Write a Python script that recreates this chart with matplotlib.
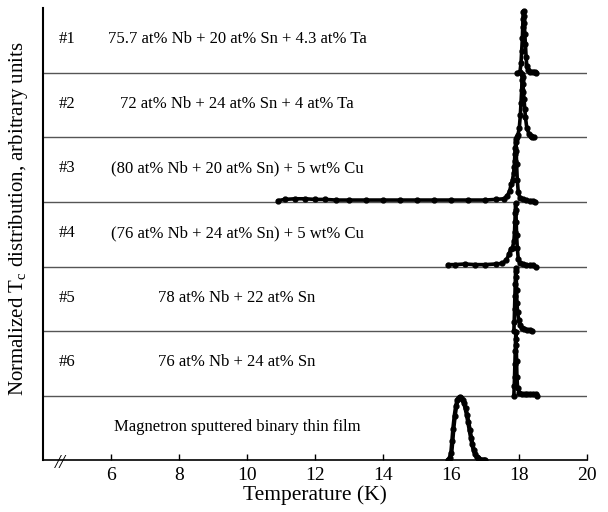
import matplotlib
matplotlib.use("Agg")
import matplotlib.pyplot as plt

plt.rcParams['font.family'] = ['Liberation Serif', 'DejaVu Serif']
plt.rcParams['mathtext.fontset'] = 'custom'
plt.rcParams['mathtext.rm'] = 'Liberation Serif'

# sample labels, top to bottom
sample_ids = ["#1", "#2", "#3", "#4", "#5", "#6", ""]
compositions = [
    "75.7 at% Nb + 20 at% Sn + 4.3 at% Ta",
    "72 at% Nb + 24 at% Sn + 4 at% Ta",
    "(80 at% Nb + 20 at% Sn) + 5 wt% Cu",
    "(76 at% Nb + 24 at% Sn) + 5 wt% Cu",
    "78 at% Nb + 22 at% Sn",
    "76 at% Nb + 24 at% Sn",
    "Magnetron sputtered binary thin film",
]

# normalized Tc distributions (T in K, value 0..1)
t1 = [17.94, 18.02, 18.05, 18.07, 18.09, 18.10, 18.11, 18.12, 18.13, 18.14, 18.15, 18.16,
      18.18, 18.20, 18.22, 18.26, 18.32, 18.40, 18.46, 18.50]
v1 = [0.0, 0.02, 0.15, 0.35, 0.55, 0.72, 0.85, 0.96, 0.98, 0.9, 0.78, 0.62,
      0.45, 0.25, 0.1, 0.04, 0.02, 0.02, 0.01, 0.0]

t2 = [17.92, 17.96, 18.0, 18.03, 18.05, 18.07, 18.08, 18.09, 18.10, 18.11, 18.12, 18.14,
      18.16, 18.18, 18.22, 18.28, 18.34, 18.38, 18.42]
v2 = [0.0, 0.04, 0.15, 0.35, 0.55, 0.75, 0.9, 1.0, 0.95, 0.85, 0.72, 0.6,
      0.45, 0.32, 0.15, 0.06, 0.02, 0.01, 0.0]

t3 = [10.9, 11.1, 11.4, 11.7, 12.0, 12.3, 12.6, 13.0, 13.5, 14.0, 14.5, 15.0, 15.5, 16.0,
      16.5, 17.0, 17.3, 17.55, 17.65, 17.72, 17.76, 17.80, 17.83, 17.85, 17.86, 17.87,
      17.88, 17.89, 17.90, 17.91, 17.92, 17.94, 17.97, 18.02, 18.1, 18.2, 18.3, 18.4, 18.47]
v3 = [0.02, 0.04, 0.05, 0.05, 0.04, 0.04, 0.03, 0.03, 0.03, 0.03, 0.03, 0.03, 0.03, 0.03,
      0.03, 0.03, 0.04, 0.05, 0.1, 0.18, 0.28, 0.35, 0.45, 0.55, 0.65, 0.75,
      0.85, 0.95, 1.0, 0.8, 0.6, 0.35, 0.15, 0.06, 0.04, 0.03, 0.02, 0.02, 0.0]

t4 = [15.9, 16.1, 16.4, 16.7, 17.0, 17.3, 17.5, 17.62, 17.70, 17.75, 17.80, 17.84, 17.86,
      17.87, 17.88, 17.89, 17.90, 17.91, 17.92, 17.94, 17.97, 18.02, 18.1, 18.2, 18.3,
      18.4, 18.48]
v4 = [0.03, 0.03, 0.04, 0.03, 0.03, 0.04, 0.05, 0.1, 0.2, 0.28, 0.3, 0.4, 0.55,
      0.7, 0.85, 1.0, 0.9, 0.7, 0.5, 0.3, 0.12, 0.05, 0.04, 0.03, 0.02,
      0.02, 0.0]

t5 = [17.84, 17.85, 17.86, 17.87, 17.88, 17.89, 17.90, 17.91, 17.92, 17.93, 17.95, 17.98,
      18.02, 18.08, 18.15, 18.22, 18.30, 18.38]
v5 = [0.0, 0.15, 0.35, 0.55, 0.75, 0.95, 1.0, 0.85, 0.65, 0.45, 0.3, 0.18,
      0.1, 0.05, 0.03, 0.02, 0.02, 0.0]

t6 = [17.84, 17.85, 17.86, 17.87, 17.88, 17.89, 17.90, 17.91, 17.92, 17.93, 17.95, 18.0,
      18.08, 18.16, 18.24, 18.32, 18.40, 18.48, 18.53]
v6 = [0.0, 0.15, 0.3, 0.5, 0.7, 0.9, 1.0, 0.8, 0.55, 0.3, 0.12, 0.04,
      0.03, 0.03, 0.02, 0.02, 0.02, 0.02, 0.0]

t7 = [15.9, 15.95, 16.0, 16.03, 16.06, 16.1, 16.14, 16.18, 16.22, 16.26, 16.3, 16.34, 16.38,
      16.42, 16.46, 16.5, 16.54, 16.58, 16.62, 16.66, 16.7, 16.75, 16.8, 16.88, 16.95, 17.0]
v7 = [0.0, 0.03, 0.12, 0.3, 0.5, 0.7, 0.85, 0.95, 0.99, 1.0, 0.99, 0.96, 0.9,
      0.82, 0.72, 0.6, 0.48, 0.36, 0.25, 0.16, 0.1, 0.05, 0.03, 0.01, 0.01, 0.0]

temps = [t1, t2, t3, t4, t5, t6, t7]
values = [v1, v2, v3, v4, v5, v6, v7]

fig = plt.figure(figsize=(6.08, 5.12), dpi=100)
ax = fig.add_axes([0.071, 0.101, 0.895, 0.883])

n = len(temps)
for i in range(n):
    base = n - 1 - i
    ys = [base + v * 0.98 for v in values[i]]
    lw = 3.2 if i == n - 1 else 2.6
    ax.plot(temps[i], ys, color='black', lw=lw, marker='o', ms=3.5, mec='black',
            mfc='black', solid_capstyle='round', zorder=3)
    if base > 0:
        ax.axhline(base, color='#555555', lw=1.0, zorder=1)
    yc = base + 0.52
    if sample_ids[i]:
        ax.text(4.45, yc, sample_ids[i], fontsize=12, ha='left', va='center')
    ax.text(9.7, yc, compositions[i], fontsize=12, ha='center', va='center')

ax.set_xlim(4, 20)
ax.set_ylim(0, n)
ax.set_xticks([6, 8, 10, 12, 14, 16, 18, 20])
ax.tick_params(axis='x', direction='in', length=4, width=1, labelsize=14, pad=5)
ax.set_yticks([])
ax.spines['top'].set_visible(False)
ax.spines['right'].set_visible(False)
ax.spines['left'].set_linewidth(1.5)
ax.spines['bottom'].set_linewidth(1.2)

ax.set_xlabel('Temperature (K)', fontsize=15.5, labelpad=1)
ax.set_ylabel(r'Normalized T$_\mathrm{c}$ distribution, arbitrary units', fontsize=15)
ax.yaxis.set_label_coords(-0.024, 0.535)

# axis break mark
ax.text(4.5, -0.05, '//', fontsize=14, ha='center', va='center', style='italic', clip_on=False)

fig.savefig('out.png', dpi=100)
